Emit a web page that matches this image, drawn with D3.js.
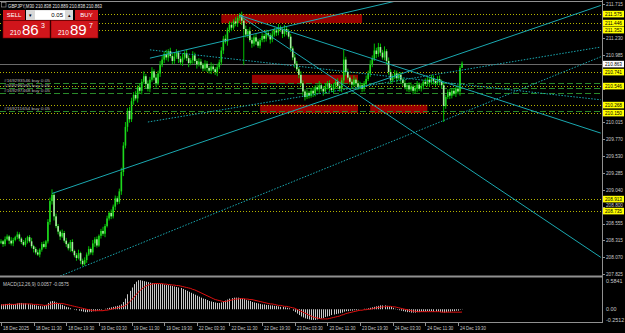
<!DOCTYPE html>
<html>
<head>
<meta charset="utf-8">
<script src="https://cdn.jsdelivr.net/npm/d3@7"></script>
<style>
body { margin: 0; background: #000; }
svg { display: block; font-family: "Liberation Sans", Arial, sans-serif; }
</style>
</head>
<body>
<div class="chart"></div>
<script>
'use strict';

// GBPJPY M30 closes, one per bar (18 Dec 03:30 .. 24 Dec 20:30)
const closes = [
  208.30,208.26,208.33,208.37,208.31,208.27,208.32,208.36,208.40,208.34,208.29,
  208.25,208.31,208.36,208.30,208.23,208.19,208.14,208.11,208.18,208.26,208.22,208.30,
  208.58,208.88,208.97,208.66,
  208.52,208.44,208.37,208.42,208.31,208.26,208.20,208.29,208.16,208.10,208.06,208.13,208.02,207.97,208.03,
  208.11,208.19,208.14,208.27,208.33,208.24,208.38,208.45,208.41,208.52,208.63,208.71,208.66,208.80,208.92,208.87,
  209.02,209.30,209.68,209.95,210.18,210.06,210.32,
  210.41,210.36,210.52,210.47,210.60,210.68,210.57,210.50,210.63,210.75,210.66,210.58,210.72,210.84,
  210.92,211.00,210.95,211.04,210.97,210.90,210.96,211.02,210.93,210.88,210.95,211.01,210.94,210.87,210.91,210.98,210.90,210.85,210.89,
  210.84,210.79,210.86,210.80,210.76,210.82,210.78,210.74,210.81,210.88,
  211.05,211.22,211.18,211.35,211.42,211.38,211.47,211.44,211.52,211.56,211.48,
  211.36,211.28,211.33,211.20,211.15,211.24,211.18,211.12,211.20,
  211.26,211.22,211.30,211.27,211.21,211.28,211.34,211.31,211.38,211.35,211.29,211.36,211.32,211.25,
  211.08,210.95,210.86,210.78,210.70,210.58,210.46,210.38,210.44,
  210.40,210.47,210.43,210.52,210.49,210.55,210.50,210.46,210.53,210.58,210.51,210.48,210.55,210.60,210.54,210.50,210.62,
  210.92,
  210.74,210.66,210.60,210.56,210.63,210.58,210.52,210.55,210.50,210.57,210.64,
  210.72,210.85,210.93,211.05,211.00,211.10,211.02,210.95,211.04,210.90,
  210.74,210.62,210.68,210.72,210.65,210.70,
  210.63,210.58,210.52,210.55,210.49,210.53,210.47,210.51,210.56,210.50,210.54,210.60,210.57,210.63,210.59,210.65,210.61,210.58,210.64,210.60,210.55,
  210.25,
  210.38,210.45,210.40,210.47,210.43,210.50,210.46,210.80,
  210.863
];
const firstOpen = 208.28;

// wick lengths in hundredths of a yen
const upWick = [
  3,2,4,3,2,5,3,2,4,3,2,3,4,2,3,5,2,3,4,2,3,4,2,
  4,5,8,3,
  4,3,2,5,3,4,2,3,4,2,3,5,2,3,4,
  3,4,2,5,3,4,2,3,6,3,4,2,5,3,4,3,
  4,6,5,7,4,6,5,
  4,6,3,5,4,7,3,5,4,6,3,5,4,6,
  5,4,6,3,5,4,6,5,3,4,6,3,5,4,3,6,4,3,5,
  4,3,5,4,3,6,4,3,5,4,
  5,4,6,3,5,4,3,6,3,3,5,
  4,5,3,6,4,3,5,4,3,
  4,3,5,4,3,6,4,3,5,3,4,6,3,4,
  4,3,5,4,3,5,4,3,5,
  3,4,5,3,4,6,3,4,5,3,4,6,3,4,5,3,4,
  14,
  4,5,3,4,6,3,4,5,3,4,5,
  4,6,5,10,4,6,5,4,7,3,
  5,4,3,5,4,3,
  4,3,5,3,4,6,3,4,5,3,4,3,5,4,3,5,4,3,4,5,3,
  4,
  3,4,5,3,4,3,5,3,
  3
];
const dnWick = [
  2,4,3,2,5,3,4,2,3,4,3,2,3,4,2,3,5,3,2,4,3,2,3,
  3,4,5,6,
  3,4,5,2,3,4,3,5,2,3,4,2,5,3,2,
  4,2,3,4,5,3,2,4,3,5,2,3,4,3,5,4,
  3,5,6,4,7,5,4,
  5,3,6,4,5,3,6,4,5,3,4,6,3,5,
  3,5,4,6,3,5,4,3,6,4,5,3,4,6,3,5,4,6,3,
  5,4,3,6,4,5,3,4,6,3,
  4,5,3,6,4,5,3,4,5,4,6,
  52,4,5,3,6,4,5,3,4,
  3,5,4,3,6,4,3,5,4,3,6,4,5,3,
  5,4,6,3,5,4,6,5,3,
  4,3,5,4,3,5,4,6,3,4,5,3,4,5,3,4,5,
  4,
  5,3,4,6,3,5,4,3,5,4,3,
  3,5,4,3,6,4,5,3,4,6,
  4,5,3,4,6,3,
  5,4,3,6,4,3,5,4,6,3,4,5,3,4,6,3,5,4,3,5,4,
  23,
  4,3,5,4,3,5,4,6,
  0
];

// MACD(12,26,9) main and signal
const macdMain = [
  0.10,0.10,0.11,0.11,0.12,0.11,0.10,0.11,0.12,0.13,0.13,0.12,0.12,0.11,0.10,0.10,0.09,0.08,0.07,0.07,
  0.06,0.07,0.09,0.13,0.16,0.17,0.16,
  0.14,0.12,0.10,0.09,0.07,0.05,0.04,0.02,
  0.00,-0.01,-0.02,-0.03,-0.04,-0.05,-0.06,-0.06,-0.05,-0.05,-0.04,-0.04,-0.03,-0.02,-0.01,
  0.00,0.01,0.02,0.03,0.04,0.05,0.06,0.07,0.08,0.10,
  0.15,0.22,0.31,0.38,0.45,0.52,0.57,0.60,0.60,0.59,
  0.58,0.57,0.56,0.55,0.54,0.53,0.53,0.52,0.52,0.52,0.51,0.50,0.50,0.49,0.48,0.47,0.46,0.45,0.44,
  0.42,0.40,0.38,0.36,0.34,0.32,0.30,0.28,0.26,0.24,0.22,0.21,0.19,0.17,0.16,0.15,0.14,0.13,0.13,
  0.14,0.16,0.18,0.20,0.22,0.23,0.24,0.24,0.24,0.23,0.22,0.21,0.19,
  0.18,0.17,0.15,0.14,0.13,0.12,0.11,0.10,0.10,0.09,0.09,0.08,0.08,0.07,0.07,0.06,0.05,0.05,0.04,0.03,0.02,
  0.00,-0.03,-0.06,-0.09,-0.12,-0.15,-0.17,-0.19,-0.20,-0.21,-0.22,-0.22,-0.22,-0.21,-0.20,-0.19,
  -0.18,-0.16,-0.15,-0.14,-0.12,-0.11,-0.10,-0.09,-0.08,-0.07,-0.05,-0.04,-0.04,-0.03,-0.03,-0.02,-0.02,-0.01,0.00,
  0.00,0.01,0.01,0.02,0.03,0.04,0.05,0.06,0.07,0.08,0.08,0.08,0.07,0.06,0.05,
  0.03,0.01,-0.01,-0.02,-0.03,-0.04,-0.05,-0.06,-0.06,-0.07,-0.07,-0.07,-0.06,-0.06,
  -0.05,-0.05,-0.05,-0.04,-0.04,-0.04,-0.05,-0.05,-0.05,-0.06,-0.06,-0.07,-0.06,
  -0.05,-0.05,-0.04,-0.04,-0.03,-0.03,-0.01,0.0057
];
const macdSignal = [
  0.09,0.09,0.09,0.10,0.10,0.10,0.10,0.10,0.11,0.11,0.11,0.11,0.11,0.11,0.11,0.11,0.10,0.10,0.10,0.09,
  0.09,0.08,0.08,0.09,0.10,0.11,0.12,
  0.12,0.12,0.12,0.12,0.11,0.10,0.09,0.08,
  0.07,0.06,0.05,0.04,0.03,0.02,0.01,0.00,-0.01,-0.02,-0.03,-0.03,-0.03,-0.03,-0.03,
  -0.03,-0.02,-0.02,-0.01,0.00,0.01,0.02,0.03,0.04,0.05,
  0.06,0.08,0.11,0.15,0.19,0.24,0.29,0.34,0.38,0.42,
  0.45,0.48,0.50,0.51,0.52,0.53,0.53,0.53,0.53,0.53,0.52,0.52,0.51,0.51,0.50,0.50,0.49,0.49,0.48,
  0.47,0.46,0.45,0.44,0.43,0.41,0.40,0.38,0.36,0.34,0.32,0.30,0.28,0.26,0.24,0.22,0.20,0.19,0.18,
  0.17,0.16,0.16,0.17,0.18,0.19,0.20,0.21,0.21,0.22,0.22,0.22,0.21,
  0.21,0.20,0.20,0.19,0.18,0.17,0.16,0.15,0.14,0.13,0.12,0.11,0.11,0.10,0.09,0.08,0.08,0.07,0.06,0.06,0.05,
  0.04,0.03,0.02,0.00,-0.02,-0.04,-0.06,-0.08,-0.10,-0.12,-0.14,-0.16,-0.17,-0.18,-0.19,-0.20,
  -0.20,-0.20,-0.20,-0.19,-0.18,-0.17,-0.16,-0.15,-0.14,-0.12,-0.11,-0.09,-0.08,-0.07,-0.06,-0.05,-0.04,-0.03,-0.02,
  -0.02,-0.01,-0.01,0.00,0.00,0.01,0.02,0.03,0.04,0.04,0.05,0.05,0.06,0.06,0.06,
  0.05,0.05,0.04,0.03,0.02,0.01,0.00,-0.01,-0.02,-0.03,-0.04,-0.04,-0.05,-0.05,
  -0.05,-0.05,-0.05,-0.05,-0.05,-0.05,-0.05,-0.05,-0.05,-0.05,-0.06,-0.06,-0.06,
  -0.06,-0.06,-0.06,-0.06,-0.06,-0.06,-0.06,-0.0575
];

const priceTicks = ['211.715','211.470','211.230','210.985','210.740','210.500','210.255','210.015',
  '209.770','209.530','209.285','209.040','208.800','208.555','208.315','208.070','207.825'];
const timeLabels = ['18 Dec 2025','18 Dec 11:30','18 Dec 19:30','19 Dec 03:30','19 Dec 11:30',
  '19 Dec 19:30','22 Dec 03:30','22 Dec 11:30','22 Dec 19:30','23 Dec 03:30','23 Dec 11:30',
  '23 Dec 19:30','24 Dec 03:30','24 Dec 11:30','24 Dec 19:30'];
const macdTicks = ['0.5841', '0.00', '-0.2512'];

// horizontal levels (yellow dotted) and open orders (green dashed)
const levels = ['211.575','211.446','211.352','210.741','210.546','210.268','210.150','208.913','208.735'];
const orderPrices = [210.58, 210.51, 210.44, 210.18];
const orderNames = ['#169293546 buy 0.05','#169296065 buy 0.05','#169297468 buy 0.05','#169211654 buy 0.05'];
const bid = 210.863;

// zones: [from bar, to bar, top price, bottom price]
const zones = [
  [108, 177, 211.575, 211.446],
  [123, 175, 210.70, 210.57],
  [127, 175, 210.268, 210.150],
  [181, 209, 210.268, 210.150]
];
// trend lines: [bar, price, bar, price, dotted]
const trendLines = [
  [25, 208.99, 294, 211.70, false],
  [29, 207.80, 294, 210.96, true],
  [72, 210.02, 294, 211.10, true],
  [73, 210.94, 196, 211.78, false],
  [73, 211.06, 294, 210.34, true],
  [116.7, 211.56, 294, 208.07, false],
  [116.7, 211.56, 294, 209.86, false]
];

const WIDTH = 625;
const HEIGHT = 333;
const RIGHT = 602;
const MAIN_BOTTOM = 276;
const SUB_TOP = 278;
const SUB_BOTTOM = 322;
const AXIS_FONT = '5.4px';

const svg = d3.select('.chart')
  .append('svg')
    .attr('width', WIDTH)
    .attr('height', HEIGHT)
    .style('background', '#000');

const x = d3.scaleLinear().domain([0, 226]).range([1, 1 + 226 * 2.04]);
const y = d3.scaleLinear().domain([207.825, 211.715]).range([274.3, 4.4]);
const yMacd = d3.scaleLinear().domain([-0.2512, 0.5841]).range([321.4, 281]);

const defs = svg.append('defs');
defs.append('clipPath').attr('id', 'mainClip')
  .append('rect').attr('x', 0).attr('y', 2).attr('width', RIGHT).attr('height', MAIN_BOTTOM - 2);
defs.append('clipPath').attr('id', 'subClip')
  .append('rect').attr('x', 0).attr('y', SUB_TOP).attr('width', RIGHT).attr('height', SUB_BOTTOM - SUB_TOP);

const main = svg.append('g').attr('clip-path', 'url(#mainClip)');

// zones
main.append('g').selectAll('rect')
  .data(zones)
  .enter().append('rect')
    .attr('x', d => x(d[0]))
    .attr('y', d => y(d[2]))
    .attr('width', d => x(d[1]) - x(d[0]))
    .attr('height', d => y(d[3]) - y(d[2]))
    .attr('fill', '#980000');

// level lines
main.append('g').selectAll('line')
  .data(levels)
  .enter().append('line')
    .attr('x1', 0).attr('x2', RIGHT)
    .attr('y1', d => Math.round(y(+d)) + 0.5)
    .attr('y2', d => Math.round(y(+d)) + 0.5)
    .attr('stroke', '#b4b400')
    .attr('stroke-dasharray', '1,2');

main.append('g').selectAll('line')
  .data(orderPrices)
  .enter().append('line')
    .attr('x1', 0).attr('x2', RIGHT)
    .attr('y1', d => Math.round(y(d)) + 0.5)
    .attr('y2', d => Math.round(y(d)) + 0.5)
    .attr('stroke', '#2a8a2a')
    .attr('stroke-dasharray', '6,3');

main.append('g').selectAll('text')
  .data(orderNames)
  .enter().append('text')
    .attr('x', 4)
    .attr('y', (d, i) => Math.round(y(orderPrices[i])) - 1)
    .attr('fill', '#b8b8b8')
    .attr('font-size', '4.4px')
    .attr('textLength', 46)
    .attr('lengthAdjust', 'spacingAndGlyphs')
    .text(d => d);

// bid line
main.append('line')
  .attr('x1', 0).attr('x2', RIGHT)
  .attr('y1', Math.round(y(bid)) + 0.5).attr('y2', Math.round(y(bid)) + 0.5)
  .attr('stroke', '#6a6a6a');

// candles
const bars = closes.map((c, i) => {
  const o = i === 0 ? firstOpen : closes[i - 1];
  return {
    i: i, o: o, c: c,
    h: Math.max(o, c) + upWick[i] / 100,
    l: Math.min(o, c) - dnWick[i] / 100
  };
});

const candle = main.append('g').selectAll('g')
  .data(bars)
  .enter().append('g');

candle.append('line')
  .attr('x1', d => x(d.i)).attr('x2', d => x(d.i))
  .attr('y1', d => y(d.h)).attr('y2', d => y(d.l))
  .attr('stroke', '#00c000')
  .attr('stroke-width', 1);

candle.append('rect')
  .attr('x', d => x(d.i) - 0.8)
  .attr('width', 1.6)
  .attr('y', d => y(Math.max(d.o, d.c)))
  .attr('height', d => Math.max(0.8, Math.abs(y(d.o) - y(d.c))))
  .attr('fill', d => d.c >= d.o ? '#1ed81e' : '#a8f0a0');

// trend lines
main.append('g').selectAll('line')
  .data(trendLines)
  .enter().append('line')
    .attr('x1', d => x(d[0])).attr('y1', d => y(d[1]))
    .attr('x2', d => x(d[2])).attr('y2', d => y(d[3]))
    .attr('stroke', '#1aa8b0')
    .attr('stroke-width', 1)
    .attr('stroke-dasharray', d => d[4] ? '1.5,1.5' : null);

// MACD window
const sub = svg.append('g').attr('clip-path', 'url(#subClip)');

sub.append('g').selectAll('line')
  .data(macdMain)
  .enter().append('line')
    .attr('x1', (d, i) => Math.round(x(i)) + 0.5)
    .attr('x2', (d, i) => Math.round(x(i)) + 0.5)
    .attr('y1', yMacd(0))
    .attr('y2', d => yMacd(d))
    .attr('stroke', '#c8c8c8');

sub.append('path')
  .datum(macdSignal)
  .attr('fill', 'none')
  .attr('stroke', '#e01010')
  .attr('stroke-width', 1)
  .attr('d', d3.line().x((d, i) => x(i)).y(d => yMacd(d)));

svg.append('text')
  .attr('x', 3).attr('y', 286)
  .attr('fill', '#c8c8c8')
  .attr('font-size', '5.2px')
  .attr('textLength', 66)
  .attr('lengthAdjust', 'spacingAndGlyphs')
  .text('MACD(12,26,9) 0.0057 -0.0575');

// frame
const frame = svg.append('g').attr('stroke', '#909090').attr('fill', 'none');
frame.append('line').attr('x1', 0).attr('x2', RIGHT).attr('y1', 1.5).attr('y2', 1.5);
frame.append('line').attr('x1', 0).attr('x2', RIGHT + 0.5).attr('y1', MAIN_BOTTOM + 0.5).attr('y2', MAIN_BOTTOM + 0.5)
  .attr('stroke-width', 2);
frame.append('line').attr('x1', 0).attr('x2', RIGHT + 0.5).attr('y1', SUB_BOTTOM + 0.5).attr('y2', SUB_BOTTOM + 0.5);
frame.append('line').attr('x1', RIGHT + 0.5).attr('x2', RIGHT + 0.5).attr('y1', 0).attr('y2', SUB_BOTTOM + 1);

// price axis; a tick text fully covered by a level label is not drawn,
// one squeezed between two labels sits in the gap
const levelY = levels.map(v => y(+v));
const hidden = d => levelY.some(ly => Math.abs(ly - y(+d)) < 3.6);
function tickBaseline(d) {
  const ty = y(+d);
  const above = levelY.filter(ly => ly < ty && ty - ly < 8);
  const below = levelY.filter(ly => ly > ty && ly - ty < 8);
  if (above.length && below.length) {
    return (d3.max(above) + d3.min(below)) / 2 + 1.6;
  }
  return ty + 1.8;
}
const pAxis = svg.append('g');
pAxis.selectAll('line')
  .data(priceTicks)
  .enter().append('line')
    .attr('x1', RIGHT).attr('x2', RIGHT + 3)
    .attr('y1', d => Math.round(y(+d)) + 0.5).attr('y2', d => Math.round(y(+d)) + 0.5)
    .attr('stroke', '#909090');
pAxis.selectAll('text')
  .data(priceTicks.filter(d => !hidden(d)))
  .enter().append('text')
    .attr('x', RIGHT + 4)
    .attr('y', tickBaseline)
    .attr('fill', '#c8c8c8')
    .attr('font-size', AXIS_FONT)
    .attr('textLength', 17)
    .attr('lengthAdjust', 'spacingAndGlyphs')
    .text(d => d);

function priceLabel(value, fill) {
  const g = svg.append('g');
  const yy = Math.round(y(+value));
  g.append('rect')
    .attr('x', RIGHT + 1).attr('y', yy - 3.2)
    .attr('width', 21).attr('height', 6.6)
    .attr('fill', fill);
  g.append('text')
    .attr('x', RIGHT + 3).attr('y', yy + 1.8)
    .attr('fill', '#000')
    .attr('font-size', AXIS_FONT)
    .attr('textLength', 17)
    .attr('lengthAdjust', 'spacingAndGlyphs')
    .text(value);
}
levels.forEach(v => priceLabel(v, '#ffff00'));
priceLabel(String(bid), '#ffffff');

// MACD axis
svg.append('g').selectAll('text')
  .data(macdTicks)
  .enter().append('text')
    .attr('x', RIGHT + 4)
    .attr('y', d => Math.min(yMacd(+d) + 2, 321.5))
    .attr('fill', '#c8c8c8')
    .attr('font-size', AXIS_FONT)
    .text(d => d);

// time axis
const tAxis = svg.append('g');
tAxis.selectAll('line')
  .data(timeLabels)
  .enter().append('line')
    .attr('x1', (d, i) => Math.round(x(i * 16)) + 0.5)
    .attr('x2', (d, i) => Math.round(x(i * 16)) + 0.5)
    .attr('y1', SUB_BOTTOM).attr('y2', SUB_BOTTOM + 4)
    .attr('stroke', '#909090');
tAxis.selectAll('text')
  .data(timeLabels)
  .enter().append('text')
    .attr('x', (d, i) => x(i * 16) + 2)
    .attr('y', 330)
    .attr('fill', '#c8c8c8')
    .attr('font-size', AXIS_FONT)
    .attr('textLength', 26)
    .attr('lengthAdjust', 'spacingAndGlyphs')
    .text(d => d);

// header and one-click panel
svg.append('rect').attr('x', 1.5).attr('y', 2.5).attr('width', 4.5).attr('height', 4.5)
  .attr('fill', 'none').attr('stroke', '#a0a0a0').attr('stroke-width', 0.6);
svg.append('text')
  .attr('x', 8).attr('y', 7.5)
  .attr('fill', '#e8e8e8')
  .attr('font-size', '5.6px')
  .attr('textLength', 94)
  .attr('lengthAdjust', 'spacingAndGlyphs')
  .text('GBPJPY,M30  210.838 210.889 210.838 210.863');

const panel = svg.append('g');
const red = '#d0151b';
panel.append('rect').attr('x', 3).attr('y', 10).attr('width', 22).attr('height', 10).attr('fill', red);
panel.append('text').attr('x', 14).attr('y', 17.3).attr('text-anchor', 'middle')
  .attr('fill', '#fff').attr('font-size', '6px').text('SELL');
panel.append('rect').attr('x', 26).attr('y', 10).attr('width', 47).attr('height', 10).attr('fill', '#d8d8d8');
panel.append('rect').attr('x', 35).attr('y', 10.5).attr('width', 30).attr('height', 9).attr('fill', '#fff');
panel.append('text').attr('x', 30.5).attr('y', 17).attr('text-anchor', 'middle')
  .attr('fill', '#000').attr('font-size', '5px').text('▾');
panel.append('text').attr('x', 69).attr('y', 17).attr('text-anchor', 'middle')
  .attr('fill', '#000').attr('font-size', '5px').text('▴');
panel.append('text').attr('x', 63).attr('y', 17.3).attr('text-anchor', 'end')
  .attr('fill', '#000').attr('font-size', '6px').text('0.05');
panel.append('rect').attr('x', 75).attr('y', 10).attr('width', 23).attr('height', 10).attr('fill', red);
panel.append('text').attr('x', 86.5).attr('y', 17.3).attr('text-anchor', 'middle')
  .attr('fill', '#fff').attr('font-size', '6px').text('BUY');

const quotes = [['210', '86', '3', 3], ['210', '89', '7', 51]];
quotes.forEach(q => {
  panel.append('rect').attr('x', q[3]).attr('y', 20.5).attr('width', 47).attr('height', 17.5).attr('fill', red)
    .attr('stroke', '#7a0000').attr('stroke-width', 0.6);
  panel.append('text').attr('x', q[3] + 7).attr('y', 34.5)
    .attr('fill', '#fff').attr('font-size', '6.5px').text(q[0]);
  panel.append('text').attr('x', q[3] + 19).attr('y', 35)
    .attr('fill', '#fff').attr('font-size', '15px').text(q[1]);
  panel.append('text').attr('x', q[3] + 38).attr('y', 28)
    .attr('fill', '#fff').attr('font-size', '7px').text(q[2]);
});
</script>
</body>
</html>
